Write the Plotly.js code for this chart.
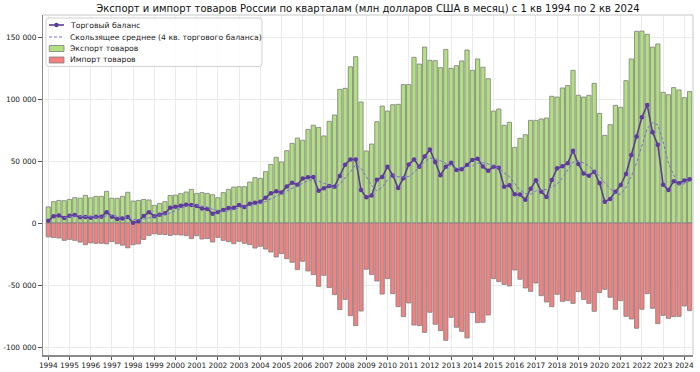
<!DOCTYPE html>
<html>
<head>
<meta charset="utf-8">
<script src="https://cdn.plot.ly/plotly-3.0.1.min.js"></script>
<style>html,body{margin:0;padding:0;background:#fff}#chart{width:700px;height:372px}</style>
</head>
<body>
<div id="chart"></div>
<script>
// Quarterly data, Q1 1994 .. Q2 2024 (mln USD per month)
const years = [1994,1995,1996,1997,1998,1999,2000,2001,2002,2003,2004,2005,2006,2007,2008,2009,2010,2011,2012,2013,2014,2015,2016,2017,2018,2019,2020,2021,2022,2023,2024];

const exportValues = [
  13000,17200,18200,18000, 19000,20400,20000,22300, 20300,21500,21500,25500, 20000,19900,21500,24800,
  17700,18200,19000,18600, 14200,15800,17200,22200, 22500,23700,25000,27100, 23900,24500,23900,22800,
  20400,24500,27100,29000, 29300,29300,33000,36600, 36000,41400,47300,53000, 49200,58300,64200,68500,
  66700,75500,78800,77100, 70200,82000,87100,107800, 108600,126000,134100,97600, 58100,63700,81700,94300,
  90300,95400,95700,111600, 111600,133600,128200,141900, 131200,130900,125300,140000, 124700,126900,130700,139500,
  123100,132300,125600,116400, 90300,91900,78800,81200, 61000,68300,71200,82800, 82800,83900,84700,102200,
  101600,108900,110800,123100, 103000,101600,103000,112600, 88400,70700,79300,94900, 93300,114800,132300,154600,
  154800,152200,141900,144400, 105400,103500,109200,107300, 101100,106000
];

const importValues = [
  -11200,-11700,-12100,-14000, -13200,-14000,-15400,-17500, -16000,-16400,-16400,-16800, -14900,-16700,-17900,-20000,
  -17500,-16800,-13300,-10000, -8700,-9200,-9300,-10000, -9400,-9700,-10200,-12600, -10200,-12900,-12600,-15300,
  -11600,-14000,-15100,-16700, -14800,-16400,-17500,-20200, -18800,-21000,-23400,-27400, -24700,-28800,-31700,-37600,
  -30900,-38700,-41700,-51100, -42200,-52100,-57800,-69900, -61600,-74700,-82800,-71000, -37300,-41600,-46800,-57300,
  -44900,-57000,-67500,-75500, -64500,-82300,-82800,-88200, -72000,-81700,-86800,-94600, -76100,-84100,-87400,-92700,
  -72300,-80400,-80100,-74200, -44900,-47300,-49500,-50800, -37900,-45400,-52400,-55100, -48400,-58600,-63700,-67500,
  -57500,-63200,-62600,-64800, -55400,-61600,-64800,-71200, -56200,-53500,-59900,-69600, -62600,-75300,-77400,-84900,
  -69600,-57000,-68800,-81200, -74500,-76900,-75500,-75300, -66900,-70700
];

const balanceValues = [
  1800,5500,6100,4000, 5800,6400,4600,4800, 4300,5100,5100,8700, 5100,3200,3600,4800,
  200,1400,5700,8600, 5500,6600,7900,12200, 13100,14000,14800,14500, 13700,11600,11300,7500,
  8800,10500,12000,12300, 14500,12900,15500,16400, 17200,20400,23900,25600, 24500,29500,32500,30900,
  35800,36800,37100,26000, 28000,29900,29300,37900, 47000,51300,51300,26600, 20800,22100,34900,37000,
  45400,38400,28200,36100, 47100,51300,45400,53700, 59200,49200,38500,45400, 48600,42800,43300,46800,
  50800,51900,45500,42200, 45400,44600,29300,30400, 23100,22900,18800,27700, 34400,25300,21000,34700,
  44100,45700,48200,58300, 47600,40000,38200,41400, 32200,17200,19400,25300, 30700,39500,54900,69700,
  85200,95200,73100,63200, 30900,26600,33700,32000, 34200,35300
];

const seriesNames = ['Торговый баланс', 'Скользящее среднее (4 кв. торгового баланса)', 'Экспорт товаров', 'Импорт товаров'];
const yTickVals = [-100000,-50000,0,50000,100000,150000];
const yTickText = ['-100 000','-50 000','0','50 000','100 000','150 000'];

// x positions: quarter index; each year labelled at its first quarter
const q = exportValues.map((_, i) => i);
const xTickVals = years.map(y => (y - 1994) * 4);
const xTickText = years.map(String);

// 4-quarter trailing moving average of the trade balance
const maValues = balanceValues.map((v, i) => i < 3 ? null :
  (balanceValues[i] + balanceValues[i-1] + balanceValues[i-2] + balanceValues[i-3]) / 4);

const purple = 'rgb(94,60,153)';
const maColor = 'rgb(115,115,205)';
const green = 'rgb(178,224,128)';
const red = 'rgb(244,128,128)';
const edge = 'rgb(125,125,125)';

const traces = [
  {type:'scatter', mode:'lines+markers', name:seriesNames[0], x:q, y:balanceValues,
   line:{color:purple, width:1.6}, marker:{color:purple, size:4.5}, hoverinfo:'skip'},
  {type:'scatter', mode:'lines', name:seriesNames[1], x:q, y:maValues,
   line:{color:maColor, width:1, dash:'3px,2px'}, hoverinfo:'skip'},
  {type:'bar', name:seriesNames[2], x:q, y:exportValues, width:0.8,
   marker:{color:green, line:{color:edge, width:0.8}}, hoverinfo:'skip'},
  {type:'bar', name:seriesNames[3], x:q, y:importValues, width:0.8,
   marker:{color:red, line:{color:edge, width:0.8}}, hoverinfo:'skip'}
];

// plot area in pixels: x 43..693, y 15..355 -> helpers for the legend box (paper coords)
const PX = px => (px - 43) / 650;
const PY = py => (355 - py) / 340;

function roundedRect(x0, y0, x1, y1, r) {
  const a = PX(x0), b = PX(x1), c = PY(y0), d = PY(y1);
  const rx = r / 650, ry = r / 340;
  return `M${a+rx},${c} L${b-rx},${c} Q${b},${c} ${b},${c-ry} L${b},${d+ry} Q${b},${d} ${b-rx},${d} ` +
         `L${a+rx},${d} Q${a},${d} ${a},${d+ry} L${a},${c-ry} Q${a},${c} ${a+rx},${c} Z`;
}

const rowsY = [25, 37, 48.5, 60];
const shapes = [
  {type:'line', xref:'paper', yref:'paper', x0:0, x1:1, y0:1, y1:1, line:{color:'#c8c8c8', width:1}},
  {type:'line', xref:'paper', yref:'paper', x0:1, x1:1, y0:0, y1:1, line:{color:'#c8c8c8', width:1}},
  {type:'path', xref:'paper', yref:'paper', layer:'above', path:roundedRect(46, 18, 262, 66.5, 3),
   fillcolor:'rgba(255,255,255,0.85)', line:{color:'#d2d2d2', width:1}},
  {type:'line', xref:'paper', yref:'paper', layer:'above', x0:PX(49), x1:PX(64), y0:PY(rowsY[0]), y1:PY(rowsY[0]),
   line:{color:purple, width:1.6}},
  {type:'circle', xref:'paper', yref:'paper', layer:'above', x0:PX(54.3), x1:PX(58.7), y0:PY(rowsY[0]-2.2), y1:PY(rowsY[0]+2.2),
   fillcolor:purple, line:{color:purple, width:0}},
  {type:'line', xref:'paper', yref:'paper', layer:'above', x0:PX(49), x1:PX(64), y0:PY(rowsY[1]), y1:PY(rowsY[1]),
   line:{color:maColor, width:1, dash:'3px,2px'}},
  {type:'rect', xref:'paper', yref:'paper', layer:'above', x0:PX(49.3), x1:PX(64), y0:PY(rowsY[2]-3), y1:PY(rowsY[2]+3),
   fillcolor:green, line:{color:edge, width:0.8}},
  {type:'rect', xref:'paper', yref:'paper', layer:'above', x0:PX(49.3), x1:PX(64), y0:PY(rowsY[3]-3), y1:PY(rowsY[3]+3),
   fillcolor:red, line:{color:edge, width:0.8}}
];

const annotations = seriesNames.map((name, k) => ({
  xref:'paper', yref:'paper', x:PX(68.5), y:PY(rowsY[k]), xanchor:'left', yanchor:'middle',
  text:name, showarrow:false, borderpad:0, font:{family:'DejaVu Sans', size:7.7, color:'#222'}
}));

const layout = {
  width:700, height:372,
  margin:{l:43, r:7, t:15, b:17},
  paper_bgcolor:'#fff', plot_bgcolor:'#fff',
  font:{family:'DejaVu Sans', size:7.4, color:'#222'},
  barmode:'overlay',
  showlegend:false,
  title:{text:'Экспорт и импорт товаров России по кварталам (млн долларов США в месяц) с 1 кв 1994 по 2 кв 2024',
         font:{family:'DejaVu Sans', size:10, color:'#111'}, x:0.5, xref:'paper', xanchor:'center',
         yref:'container', y:1 - 8/372, yanchor:'middle'},
  xaxis:{range:[-1.0, 121.64], tickmode:'array', tickvals:xTickVals, ticktext:xTickText, tickangle:0,
         ticks:'outside', ticklen:3, tickcolor:'#555', showgrid:true, gridcolor:'#ebebeb', gridwidth:1,
         zeroline:false, showline:true, linecolor:'#8a8a8a', linewidth:1.5, tickfont:{size:7.4, color:'#222'}},
  yaxis:{range:[-106450, 167740], tickmode:'array', tickvals:yTickVals, ticktext:yTickText,
         ticks:'outside', ticklen:3.5, tickcolor:'#555', showgrid:true, gridcolor:'#ebebeb', gridwidth:1,
         zeroline:false, showline:true, linecolor:'#8a8a8a', linewidth:1.5, tickfont:{size:7.4, color:'#222'}},
  shapes:shapes,
  annotations:annotations
};

Plotly.newPlot('chart', traces, layout, {staticPlot:true, displayModeBar:false});
</script>
</body>
</html>
